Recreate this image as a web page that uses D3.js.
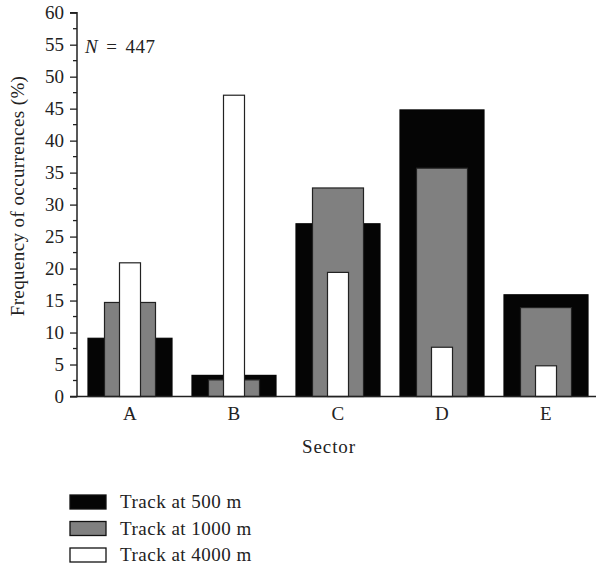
<!DOCTYPE html>
<html>
<head>
<meta charset="utf-8">
<script src="https://cdn.jsdelivr.net/npm/d3@7"></script>
<style>
    body { margin: 0; background: #fff; }
</style>
</head>
<body>
<svg id="chart" width="596" height="569"></svg>
<script>
// sectors and values (% of occurrences)
var sectors = ['A', 'B', 'C', 'D', 'E'];
var track500 = [9.1, 3.3, 27.0, 44.8, 15.9];
var track1000 = [14.7, 2.6, 32.6, 35.7, 13.9];
var track4000 = [20.9, 47.1, 19.4, 7.7, 4.8];
var seriesNames = ['Track at 500 m', 'Track at 1000 m', 'Track at 4000 m'];
var yTicks = [0, 5, 10, 15, 20, 25, 30, 35, 40, 45, 50, 55, 60];

var FONT = "'Liberation Serif', 'DejaVu Serif', serif";

var svg = d3.select('#chart');

var x = d3.scaleBand()
    .domain(sectors)
    .range([78, 598]);

var y = d3.scaleLinear()
    .domain([0, 60])
    .range([396.5, 12.7]);

var bw = x.bandwidth();

// widest first so narrower bars sit on top
var series = [
    { values: track500, fill: '#050505', frac: 84 / 104, stroke: '#050505' },
    { values: track1000, fill: '#808080', frac: 51 / 104, stroke: '#222' },
    { values: track4000, fill: '#fff', frac: 21 / 104, stroke: '#222' }
];

series.forEach(function (s) {
    svg.append('g')
        .selectAll('rect')
        .data(sectors)
        .enter()
        .append('rect')
        .attr('x', function (d) {
            return x(d) + bw / 2 - bw * s.frac / 2;
        })
        .attr('width', bw * s.frac)
        .attr('y', function (d, i) {
            return y(s.values[i]);
        })
        .attr('height', function (d, i) {
            return y(0) - y(s.values[i]);
        })
        .attr('fill', s.fill)
        .attr('stroke', s.stroke)
        .attr('stroke-width', 1.2);
});

// y axis: labelled ticks every 5, minor ticks halfway
var yAxis = d3.axisLeft(y)
    .tickValues(yTicks)
    .tickSize(7)
    .tickPadding(6);

var gy = svg.append('g')
    .attr('transform', 'translate(77,0)')
    .call(yAxis)
    .attr('font-family', FONT);

gy.select('.domain').attr('stroke', '#222').attr('stroke-width', 1.5).attr('d', 'M-7,' + y(60) + 'H0V' + y(0) + 'H-7');
gy.selectAll('.tick line').attr('stroke', '#222').attr('stroke-width', 1.3);
gy.selectAll('.tick text')
    .attr('font-family', FONT)
    .attr('fill', '#222')
    .style('font-size', '19px');

var minor = d3.range(2.5, 60, 5);
gy.selectAll('.minor')
    .data(minor)
    .enter()
    .append('line')
    .attr('class', 'minor')
    .attr('x1', -4)
    .attr('x2', 0)
    .attr('y1', function (d) { return y(d); })
    .attr('y2', function (d) { return y(d); })
    .attr('stroke', '#222')
    .attr('stroke-width', 1.3);

// x baseline
svg.append('line')
    .attr('x1', 77)
    .attr('x2', 596)
    .attr('y1', y(0))
    .attr('y2', y(0))
    .attr('stroke', '#222')
    .attr('stroke-width', 1.5);

var labels = svg.append('g')
    .attr('font-family', FONT)
    .attr('fill', '#222')
    .style('font-size', '19px')
    .style('letter-spacing', '0.5px');

// sector labels
labels.append('g')
    .selectAll('text')
    .data(sectors)
    .enter()
    .append('text')
    .attr('x', function (d) { return x(d) + bw / 2; })
    .attr('y', 420)
    .attr('text-anchor', 'middle')
    .text(function (d) { return d; });

labels.append('text')
    .attr('x', 329)
    .attr('y', 453)
    .attr('text-anchor', 'middle')
    .style('letter-spacing', '0.9px')
    .text('Sector');

labels.append('text')
    .attr('transform', 'translate(24,196) rotate(-90)')
    .attr('text-anchor', 'middle')
    .style('letter-spacing', '0.4px')
    .text('Frequency of occurrences (%)');

var nText = labels.append('text')
    .attr('x', 85)
    .attr('y', 53);
nText.append('tspan').style('font-style', 'italic').text('N');
nText.append('tspan').attr('dx', 8).text('=');
nText.append('tspan').attr('dx', 8).text('447');

// legend
var legend = labels.append('g')
    .selectAll('g')
    .data(seriesNames)
    .enter()
    .append('g')
    .attr('transform', function (d, i) {
        return 'translate(70,' + (495 + i * 26.5) + ')';
    });

legend.append('rect')
    .attr('width', 36)
    .attr('height', 14)
    .attr('fill', function (d, i) { return series[i].fill; })
    .attr('stroke', '#111')
    .attr('stroke-width', 1.3);

legend.append('text')
    .attr('x', 50)
    .attr('y', 13)
    .text(function (d) { return d; });
</script>
</body>
</html>
